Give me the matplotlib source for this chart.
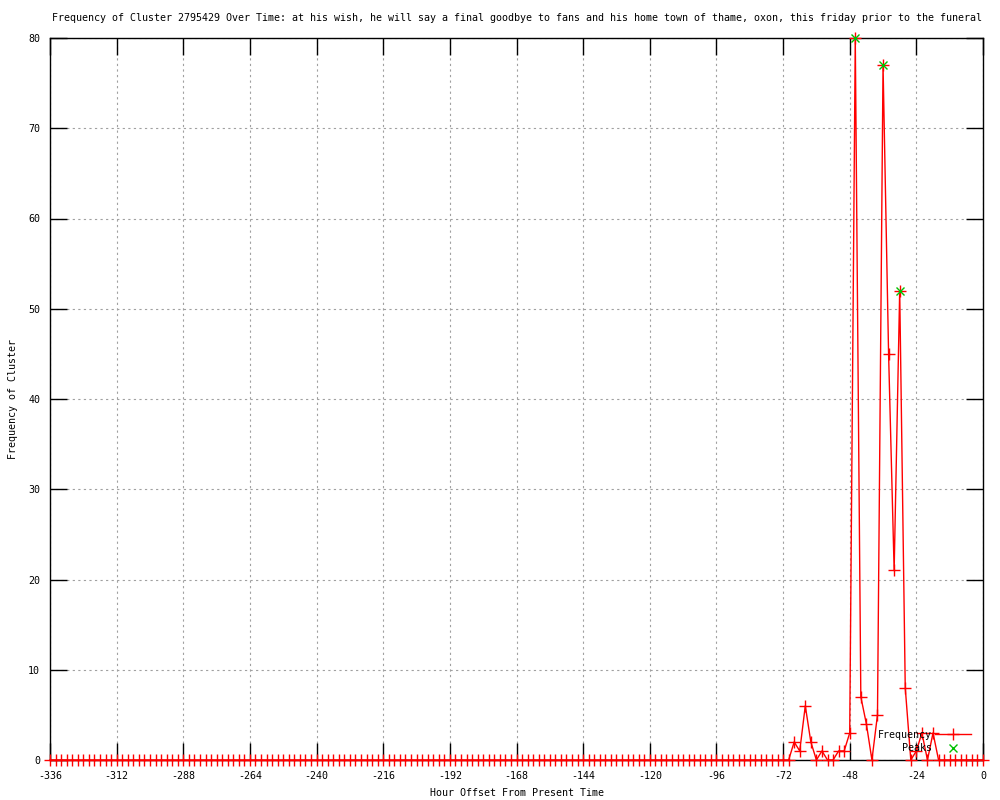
import numpy as np
import matplotlib
matplotlib.use("Agg")
import matplotlib.pyplot as plt

# dados (um ponto a cada 2 horas)
horas = list(range(-336, 2, 2))
freq = [0] * 133 + [
    0, 2, 1, 6, 2, 0, 1, 0, 0, 1, 1, 3,
    80, 7, 4, 0, 5, 77, 45, 21, 52, 8, 0, 1,
    3, 0, 3, 0, 0, 0, 0, 0, 0, 0, 0, 0,
]
pico_x = [-46, -36, -30]
pico_y = [80, 77, 52]

titulo = ("Frequency of Cluster 2795429 Over Time: at his wish, he will say a final goodbye "
          "to fans and his home town of thame, oxon, this friday prior to the funeral")

plt.rcParams['font.family'] = ['DejaVu Sans Mono']
plt.rcParams['font.size'] = 7.2
plt.rcParams['axes.unicode_minus'] = False

fig = plt.figure(figsize=(10, 8), dpi=100)
ax = fig.add_axes([0.05, 0.05, 0.933, 0.9025])

ax.plot(horas, freq, color='red', lw=1, marker='+', ms=8, mew=1, label='Frequency', clip_on=False, zorder=3)
ax.plot(pico_x, pico_y, ls='none', color='#00c000', marker='x', ms=6, mew=1, label='Peaks', clip_on=False, zorder=4)

ax.set_xlim(-336, 0)
ax.set_ylim(0, 80)
ax.set_xticks(range(-336, 1, 24))
ax.set_yticks(range(0, 81, 10))
ax.tick_params(direction='in', length=12, width=1, top=True, right=True)
ax.tick_params(axis='x', pad=8)
ax.tick_params(axis='y', pad=7)
ax.grid(True, color='#a0a0a0', ls=(0, (2, 3)), lw=0.8)
for s in ax.spines.values():
    s.set_linewidth(1)

ax.text(0.5, 1.0277, titulo, transform=ax.transAxes, ha='center', va='center')
ax.set_xlabel('Hour Offset From Present Time', va='center')
ax.xaxis.set_label_coords(0.5, -0.0457)
ax.set_ylabel('Frequency of Cluster', va='center')
ax.yaxis.set_label_coords(-0.0397, 0.5)

ax.legend(loc='lower right', bbox_to_anchor=(0.995, 0.0), markerfirst=False,
          frameon=False, handlelength=3.6, handletextpad=0.3, labelspacing=0.35,
          borderpad=0.2)

fig.savefig('out.png', dpi=100)
